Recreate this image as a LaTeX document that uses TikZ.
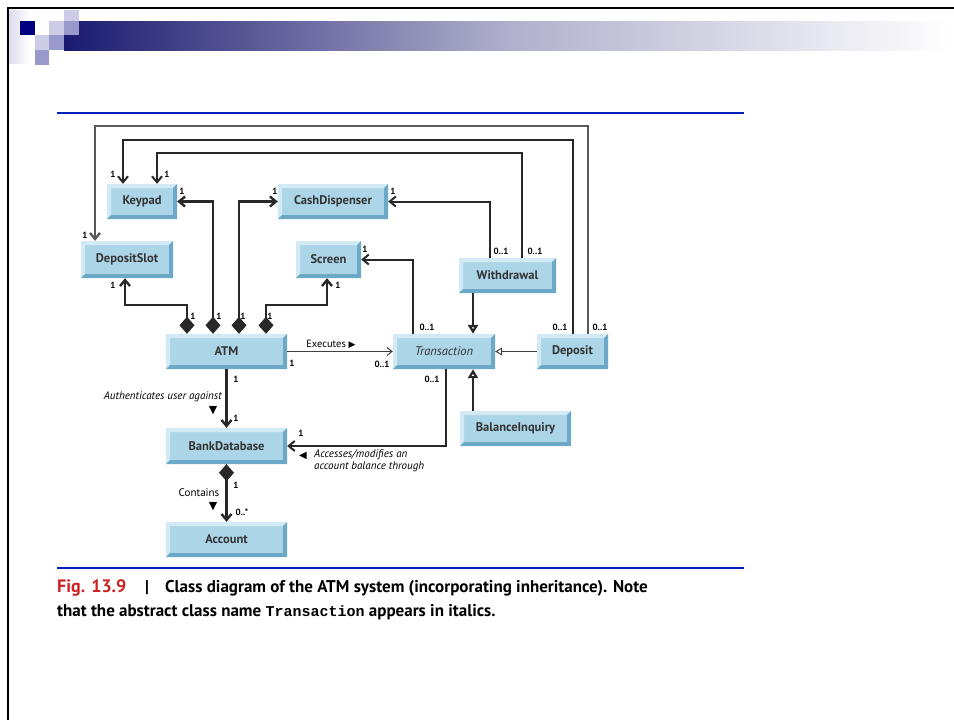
\documentclass[tikz,border=0pt]{standalone}
\usepackage{fontspec}
\setmainfont{PT Sans}
\newfontfamily\symfont{DejaVu Sans}
\newfontfamily\codefont{Liberation Mono}
\usetikzlibrary{arrows.meta}

\definecolor{navyhead}{RGB}{0,0,128}
\definecolor{bandnavy}{RGB}{26,26,112}
\definecolor{bandmid}{RGB}{176,176,204}
\definecolor{sqlight}{RGB}{204,204,230}
\definecolor{sqmid}{RGB}{153,153,204}
\definecolor{rulebl}{RGB}{0,34,187}
\definecolor{boxface}{RGB}{172,214,232}
\definecolor{boxdark}{RGB}{108,168,200}
\definecolor{boxlight}{RGB}{210,234,245}
\definecolor{linegray}{RGB}{40,40,40}
\definecolor{figred}{RGB}{204,34,34}

\newcommand{\clsfont}{\fontsize{12.5}{14}\selectfont\bfseries}
\newcommand{\multfont}{\fontsize{9}{10}\selectfont\bfseries}
\newcommand{\rolefont}{\fontsize{11}{12}\selectfont\itshape}
\newcommand{\capfont}{\fontsize{17}{19}\selectfont\bfseries}

\begin{document}
\begin{tikzpicture}[x=1pt,y=-1pt,
	cls/.style={rectangle,fill=boxface,inner sep=0pt,minimum height=35pt,font=\clsfont,text=black!80,
		path picture={
			\fill[boxlight] (path picture bounding box.south west) -- (path picture bounding box.north west)
				-- (path picture bounding box.north east) -- ([shift={(-4pt,-4pt)}]path picture bounding box.north east)
				-- ([shift={(4pt,-4pt)}]path picture bounding box.north west) -- ([shift={(4pt,4pt)}]path picture bounding box.south west) -- cycle;
			\fill[boxdark] (path picture bounding box.south west) -- (path picture bounding box.south east)
				-- (path picture bounding box.north east) -- ([shift={(-4pt,-4pt)}]path picture bounding box.north east)
				-- ([shift={(-4pt,4pt)}]path picture bounding box.south east) -- ([shift={(4pt,4pt)}]path picture bounding box.south west) -- cycle;
		}},
	assoc/.style={draw=linegray,line width=2.4pt,-{Straight Barb[length=6pt,width=10pt]}},
	loopline/.style={draw=linegray,line width=2pt,-{Straight Barb[length=6pt,width=10pt]}},
	comp/.style={draw=linegray,line width=2.4pt,{Diamond[length=17pt,width=15pt]}-{Straight Barb[length=6pt,width=10pt]}},
	gen/.style={draw=linegray,line width=2.2pt,-{Triangle[open,length=9pt,width=10pt,fill=white]}},
	mult/.style={font=\multfont,inner sep=0pt},
	role/.style={font=\rolefont,inner sep=0pt},
	]
	\useasboundingbox (0,0) rectangle (954,720);
	\fill[white] (0,0) rectangle (954,720);

	% slide header
	\shade[left color=sqlight!70,right color=white] (9,10) rectangle (30,63);
	\shade[left color=bandnavy,right color=white,middle color=bandmid] (64,21) rectangle (954,50);
	\fill[navyhead] (20,21) rectangle (35,35);
	\fill[sqlight] (49,21) rectangle (64,35);
	\fill[sqlight] (64,10) rectangle (79,21);
	\fill[sqmid] (64,21) rectangle (79,35);
	\fill[sqlight] (35,35) rectangle (49,50);
	\fill[sqmid] (49,35) rectangle (64,50);
	\fill[sqmid] (35,50) rectangle (49,65);
	\draw[black,line width=2.5pt] (8,720) -- (8,8) -- (954,8);

	\draw[rulebl,line width=2pt] (57,112.5) -- (744,112.5);
	\draw[rulebl,line width=1.5pt] (57,568) -- (744,568);

	% classes
	\node[cls,minimum width=70pt] (keypad) at (142,201.5) {Keypad};
	\node[cls,minimum width=92pt,minimum height=37pt] (depslot) at (127,259.5) {DepositSlot};
	\node[cls,minimum width=110pt] (cash) at (333,201.5) {CashDispenser};
	\node[cls,minimum width=65pt,minimum height=37pt] (screen) at (328.5,259.5) {Screen};
	\node[cls,minimum width=97pt] (withdraw) at (507.5,275.5) {Withdrawal};
	\node[cls,minimum width=121pt] (atm) at (226.5,351.5) {ATM};
	\node[cls,minimum width=102pt,font=\fontsize{12.5}{14}\selectfont\itshape] (trans) at (444,351.5) {Transaction};
	\node[cls,minimum width=71pt] (deposit) at (572.5,351.5) {Deposit};
	\node[cls,minimum width=111pt] (balance) at (515.5,428.5) {BalanceInquiry};
	\node[cls,minimum width=121pt,minimum height=36pt] (bankdb) at (226.5,446) {BankDatabase};
	\node[cls,minimum width=121pt] (account) at (226.5,539.5) {Account};

	% long loops over the top
	\draw[loopline,draw=black!65,line width=2.4pt] ([xshift=15.5pt]deposit.north) |- (95,126) -- ([xshift=-32pt]depslot.north);
	\draw[loopline] (deposit.north) |- (123,140) -- ([xshift=-19pt]keypad.north);
	\draw[loopline] ([xshift=14.5pt]withdraw.north) |- (157,153) -- ([xshift=15pt]keypad.north);
	\draw[loopline] ([xshift=-17.5pt]withdraw.north) |- (cash.east);

	% ATM parts
	\draw[comp] ([xshift=-39.5pt]atm.north) |- (125,305) -- ([xshift=-2pt]depslot.south);
	\draw[comp] ([xshift=-13.5pt]atm.north) |- (keypad.east);
	\draw[comp] ([xshift=12.5pt]atm.north) |- (cash.west);
	\draw[comp] ([xshift=39.5pt]atm.north) |- (327,305) -- ([xshift=-1.5pt]screen.south);

	\draw[loopline] ([xshift=-31pt]trans.north) |- (screen.east);
	\draw[gen] ([xshift=-34.5pt]withdraw.south) -- ([xshift=29pt]trans.north);
	\draw[gen] ([xshift=-42.5pt]balance.north) -- ([xshift=29pt]trans.south);
	\draw[gen,line width=1pt,draw=black!75,-{Triangle[open,length=7pt,width=8pt,fill=white]}] (deposit.west) -- (trans.east);
	\draw[draw=black!75,line width=1pt,-{Straight Barb[length=5pt,width=8pt]}] (atm.east) -- (trans.west);
	\draw[assoc] (atm.south) -- (bankdb.north);
	\draw[loopline] ([xshift=2pt]trans.south) |- (bankdb.east);
	\draw[comp] (bankdb.south) -- (account.north);

	% multiplicities
	\node[mult] (mk1) at (113,174) {1};
	\node[mult] (mk2) at (167,174) {1};
	\node[mult] (md1) at (85,235) {1};
	\node[mult] (mk3) at (182,191) {1};
	\node[mult] (mc1) at (275,191) {1};
	\node[mult] (mc2) at (393,191) {1};
	\node[mult] (mw1) at (501,251) {0..1};
	\node[mult] (mw2) at (535,251) {0..1};
	\node[mult] (ms1) at (365,249) {1};
	\node[mult] (md2) at (113,285) {1};
	\node[mult] (ms2) at (338,285) {1};
	\node[mult] (ma1) at (193,316) {1};
	\node[mult] (ma2) at (219,316) {1};
	\node[mult] (ma3) at (243,316) {1};
	\node[mult] (ma4) at (270,316) {1};
	\node[mult] (mt1) at (427,327) {0..1};
	\node[mult] (mp1) at (560,327) {0..1};
	\node[mult] (mp2) at (600,327) {0..1};
	\node[mult] (ma5) at (292,363) {1};
	\node[mult] (mt2) at (382,364) {0..1};
	\node[mult] (mt3) at (432,379) {0..1};
	\node[mult] (ma6) at (236,379) {1};
	\node[mult] (mb1) at (236,418) {1};
	\node[mult] (mb2) at (301,433) {1};
	\node[mult] (mb3) at (236,485) {1};
	\node[mult] (mac) at (242,512) {0..*};

	% association names
	\node[role,font=\fontsize{10.5}{12}\selectfont] (executes) at (331,344) {Executes {\symfont\fontsize{9}{10}\selectfont ▶}};
	\node[role,anchor=east] (auth) at (222,397) {Authenticates user against};
	\node[inner sep=0pt,font=\symfont\fontsize{11}{12}\selectfont] (authdir) at (213,411) {▼};
	\node[inner sep=0pt,font=\symfont\fontsize{10}{11}\selectfont] (accdir) at (303,456) {◀};
	\node[role,anchor=north west,align=left] (access) at (314,449) {Accesses/modifies an\\account balance through};
	\node[role,font=\fontsize{11}{12}\selectfont] (contains) at (199,493) {Contains};
	\node[inner sep=0pt,font=\symfont\fontsize{11}{12}\selectfont] (contdir) at (213,507) {▼};

	% caption
	\node[anchor=base west,inner sep=0pt,font=\capfont\fontsize{18}{20}\selectfont,text=figred] (figno) at (57,592) {Fig. 13.9};
	\node[anchor=base,inner sep=0pt,font=\capfont] (bar) at (147,592) {|};
	\node[anchor=base west,inner sep=0pt,font=\capfont] (cap1) at (165,592) {Class diagram of the ATM system (incorporating inheritance). Note};
	\node[anchor=base west,inner sep=0pt,font=\capfont] (cap2) at (57,616) {that the abstract class name {\codefont\fontsize{15}{17}\selectfont Transaction} appears in italics.};
\end{tikzpicture}
\end{document}
